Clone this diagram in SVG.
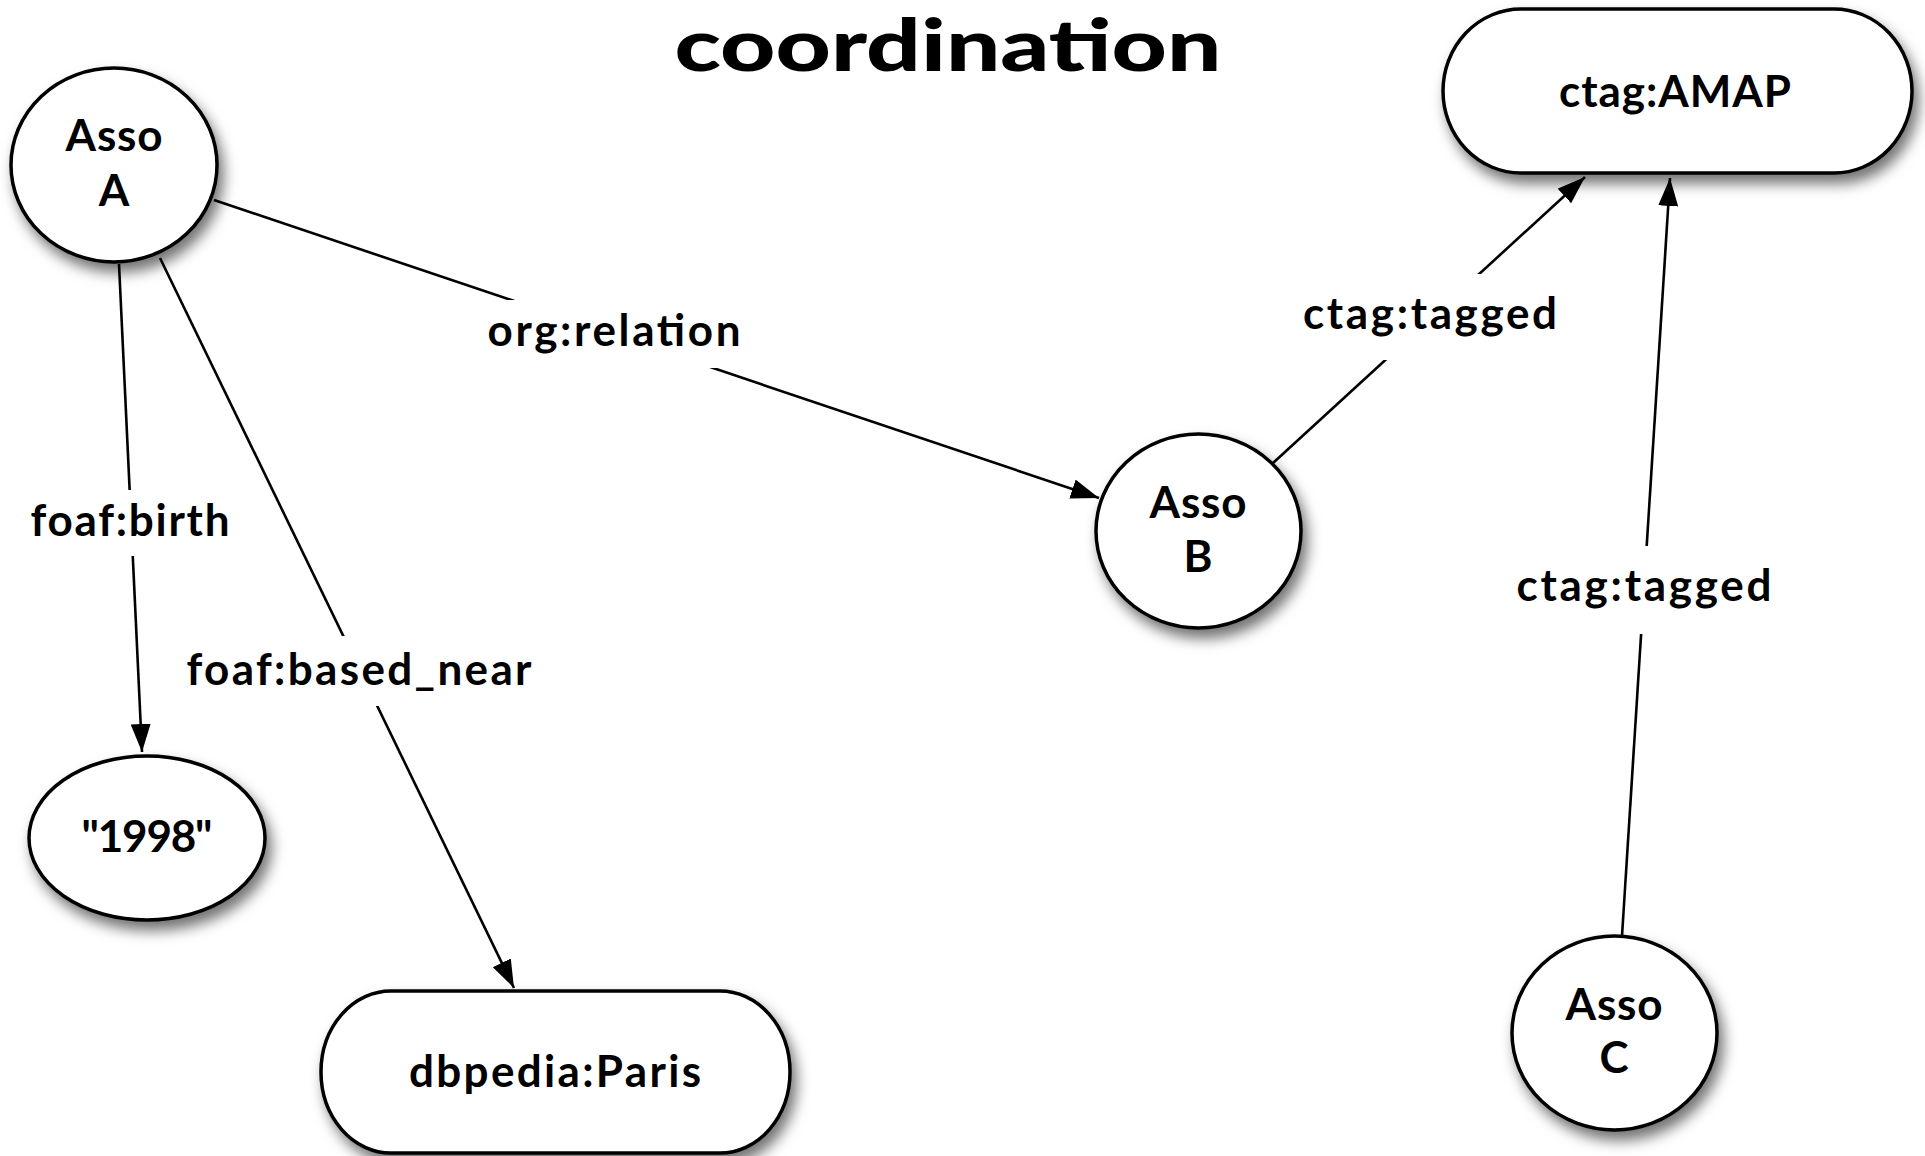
<svg xmlns="http://www.w3.org/2000/svg" width="1925" height="1156" viewBox="0 0 1925 1156">
<style>
.node{fill:#fff;stroke:#000;stroke-width:3.5;filter:url(#sh)}
.t{font-family:Lato,"Open Sans","Liberation Sans",sans-serif;font-weight:700;font-size:44px;fill:#000;text-anchor:middle}
.lbl{font-family:Lato,"Open Sans","Liberation Sans",sans-serif;font-weight:700;font-size:44px;fill:#000;text-anchor:middle}
.title{font-family:Lato,"Liberation Sans",sans-serif;font-weight:900;font-size:72px;fill:#000;text-anchor:middle}
.edge{stroke:#000;stroke-width:2.6;fill:none;marker-end:url(#arr)}
.bg{fill:#fff}
</style>
<defs>
<filter id="sh" x="-30%" y="-30%" width="170%" height="170%">
<feDropShadow dx="5" dy="9" stdDeviation="7" flood-color="#000" flood-opacity="0.55"/>
</filter>
<marker id="arr" markerUnits="userSpaceOnUse" markerWidth="30" markerHeight="22" refX="28" refY="10" orient="auto">
<path d="M0,0 L28,10 L0,20 z" fill="#000"/>
</marker>
</defs>
<rect width="1925" height="1156" fill="#fff"/>
<text class="title" x="948" y="71" textLength="547" lengthAdjust="spacingAndGlyphs">coordination</text>
<g id="connectors">
<line class="edge" x1="119" y1="264" x2="142" y2="752"/>
<line class="edge" x1="160" y1="258" x2="514" y2="988"/>
<line class="edge" x1="214" y1="200" x2="1099" y2="498"/>
<line class="edge" x1="1273" y1="463" x2="1585" y2="177"/>
<line class="edge" x1="1622" y1="936" x2="1670" y2="178"/>
<rect class="bg" x="31" y="490" width="199" height="66"/>
<text class="lbl" x="130" y="536" textLength="199">foaf:birth</text>
<rect class="bg" x="187" y="636" width="345" height="70"/>
<text class="lbl" x="359" y="685" textLength="345">foaf:based_near</text>
<rect class="bg" x="487" y="300" width="253" height="68"/>
<text class="lbl" x="614" y="346" textLength="253">org:relation</text>
<rect class="bg" x="1303" y="274" width="254" height="86"/>
<text class="lbl" x="1430" y="329" textLength="254">ctag:tagged</text>
<rect class="bg" x="1516" y="546" width="256" height="88"/>
<text class="lbl" x="1644" y="601" textLength="255">ctag:tagged</text>
</g>
<g id="assoA">
<ellipse class="node" cx="114" cy="165" rx="103" ry="97"/>
<text class="t" x="114" y="151" textLength="97">Asso</text>
<text class="t" x="114" y="206">A</text>
</g>
<g id="amap">
<rect class="node" x="1443" y="9" width="469" height="164" rx="78" ry="82"/>
<text class="t" x="1675" y="107" textLength="232">ctag:AMAP</text>
</g>
<g id="assoB">
<ellipse class="node" cx="1198.5" cy="531" rx="102.5" ry="97"/>
<text class="t" x="1198" y="518" textLength="97">Asso</text>
<text class="t" x="1198" y="572">B</text>
</g>
<g id="assoC">
<ellipse class="node" cx="1614.5" cy="1033" rx="102.5" ry="97"/>
<text class="t" x="1614" y="1020" textLength="97">Asso</text>
<text class="t" x="1614" y="1073">C</text>
</g>
<g id="y1998">
<ellipse class="node" cx="147" cy="838" rx="118" ry="82"/>
<text class="t" x="147" y="852" textLength="131">"1998"</text>
</g>
<g id="paris">
<rect class="node" x="321" y="991" width="469" height="162" rx="70" ry="81"/>
<text class="t" x="555" y="1087" textLength="292">dbpedia:Paris</text>
</g>
</svg>
